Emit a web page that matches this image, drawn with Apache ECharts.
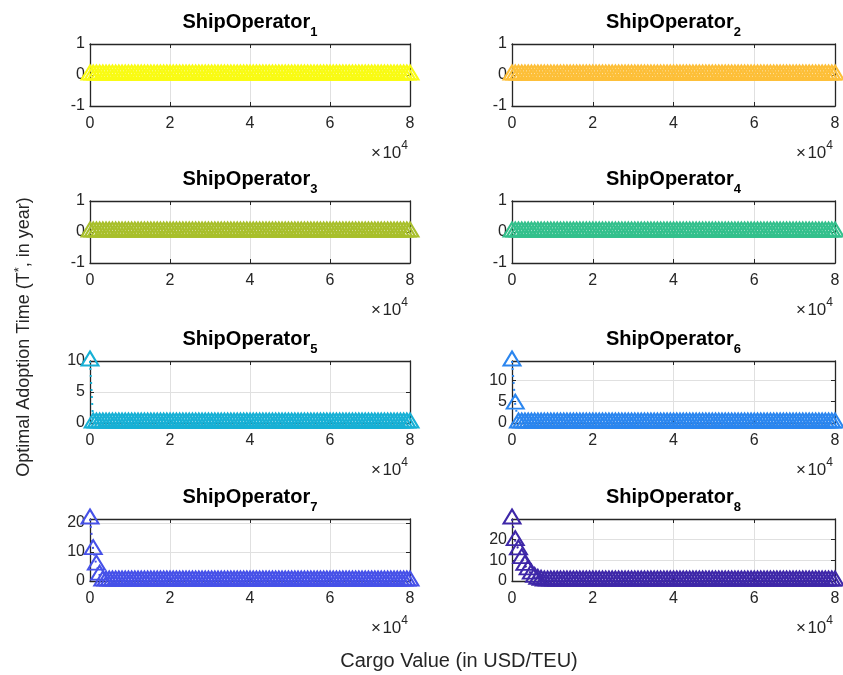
<!DOCTYPE html>
<html>
<head>
<meta charset="utf-8">
<script src="https://cdn.jsdelivr.net/npm/echarts@6/dist/echarts.min.js"></script>
<style>
  html, body { margin: 0; padding: 0; background: #ffffff; }
  #chart { width: 843px; height: 675px; }
</style>
</head>
<body>
<div id="chart"></div>
<script>
// Cargo value samples (USD/TEU)
const cargoValue = [
  0, 800, 1600, 2400, 3200, 4000, 4800, 5600, 6400, 7200,
  8000, 8800, 9600, 10400, 11200, 12000, 12800, 13600, 14400, 15200,
  16000, 16800, 17600, 18400, 19200, 20000, 20800, 21600, 22400, 23200,
  24000, 24800, 25600, 26400, 27200, 28000, 28800, 29600, 30400, 31200,
  32000, 32800, 33600, 34400, 35200, 36000, 36800, 37600, 38400, 39200,
  40000, 40800, 41600, 42400, 43200, 44000, 44800, 45600, 46400, 47200,
  48000, 48800, 49600, 50400, 51200, 52000, 52800, 53600, 54400, 55200,
  56000, 56800, 57600, 58400, 59200, 60000, 60800, 61600, 62400, 63200,
  64000, 64800, 65600, 66400, 67200, 68000, 68800, 69600, 70400, 71200,
  72000, 72800, 73600, 74400, 75200, 76000, 76800, 77600, 78400, 79200,
  80000
];

// Optimal adoption time T* (years) for each ship operator
const adoption1 = [
  0,0,0,0,0,0,0,0,0,0, 0,0,0,0,0,0,0,0,0,0, 0,0,0,0,0,0,0,0,0,0, 0,0,0,0,0,0,0,0,0,0,
  0,0,0,0,0,0,0,0,0,0, 0,0,0,0,0,0,0,0,0,0, 0,0,0,0,0,0,0,0,0,0, 0,0,0,0,0,0,0,0,0,0,
  0,0,0,0,0,0,0,0,0,0, 0,0,0,0,0,0,0,0,0,0, 0
];
const adoption2 = [
  0,0,0,0,0,0,0,0,0,0, 0,0,0,0,0,0,0,0,0,0, 0,0,0,0,0,0,0,0,0,0, 0,0,0,0,0,0,0,0,0,0,
  0,0,0,0,0,0,0,0,0,0, 0,0,0,0,0,0,0,0,0,0, 0,0,0,0,0,0,0,0,0,0, 0,0,0,0,0,0,0,0,0,0,
  0,0,0,0,0,0,0,0,0,0, 0,0,0,0,0,0,0,0,0,0, 0
];
const adoption3 = [
  0,0,0,0,0,0,0,0,0,0, 0,0,0,0,0,0,0,0,0,0, 0,0,0,0,0,0,0,0,0,0, 0,0,0,0,0,0,0,0,0,0,
  0,0,0,0,0,0,0,0,0,0, 0,0,0,0,0,0,0,0,0,0, 0,0,0,0,0,0,0,0,0,0, 0,0,0,0,0,0,0,0,0,0,
  0,0,0,0,0,0,0,0,0,0, 0,0,0,0,0,0,0,0,0,0, 0
];
const adoption4 = [
  0,0,0,0,0,0,0,0,0,0, 0,0,0,0,0,0,0,0,0,0, 0,0,0,0,0,0,0,0,0,0, 0,0,0,0,0,0,0,0,0,0,
  0,0,0,0,0,0,0,0,0,0, 0,0,0,0,0,0,0,0,0,0, 0,0,0,0,0,0,0,0,0,0, 0,0,0,0,0,0,0,0,0,0,
  0,0,0,0,0,0,0,0,0,0, 0,0,0,0,0,0,0,0,0,0, 0
];
const adoption5 = [
  10,0,0,0,0,0,0,0,0,0, 0,0,0,0,0,0,0,0,0,0, 0,0,0,0,0,0,0,0,0,0, 0,0,0,0,0,0,0,0,0,0,
  0,0,0,0,0,0,0,0,0,0, 0,0,0,0,0,0,0,0,0,0, 0,0,0,0,0,0,0,0,0,0, 0,0,0,0,0,0,0,0,0,0,
  0,0,0,0,0,0,0,0,0,0, 0,0,0,0,0,0,0,0,0,0, 0
];
const adoption6 = [
  14.5,4.4,0,0,0,0,0,0,0,0, 0,0,0,0,0,0,0,0,0,0, 0,0,0,0,0,0,0,0,0,0, 0,0,0,0,0,0,0,0,0,0,
  0,0,0,0,0,0,0,0,0,0, 0,0,0,0,0,0,0,0,0,0, 0,0,0,0,0,0,0,0,0,0, 0,0,0,0,0,0,0,0,0,0,
  0,0,0,0,0,0,0,0,0,0, 0,0,0,0,0,0,0,0,0,0, 0
];
const adoption7 = [
  21.4,10.8,5.5,2.0,0,0,0,0,0,0, 0,0,0,0,0,0,0,0,0,0, 0,0,0,0,0,0,0,0,0,0, 0,0,0,0,0,0,0,0,0,0,
  0,0,0,0,0,0,0,0,0,0, 0,0,0,0,0,0,0,0,0,0, 0,0,0,0,0,0,0,0,0,0, 0,0,0,0,0,0,0,0,0,0,
  0,0,0,0,0,0,0,0,0,0, 0,0,0,0,0,0,0,0,0,0, 0
];
const adoption8 = [
  29.7,19.3,14.9,10.7,7.5,5.3,3.3,1.7,0.8,0.3, 0,0,0,0,0,0,0,0,0,0, 0,0,0,0,0,0,0,0,0,0, 0,0,0,0,0,0,0,0,0,0,
  0,0,0,0,0,0,0,0,0,0, 0,0,0,0,0,0,0,0,0,0, 0,0,0,0,0,0,0,0,0,0, 0,0,0,0,0,0,0,0,0,0,
  0,0,0,0,0,0,0,0,0,0, 0,0,0,0,0,0,0,0,0,0, 0
];

const operatorIds = ['1', '2', '3', '4', '5', '6', '7', '8'];
const xTicks = [0, 20000, 40000, 60000, 80000];
const yTickStep = [1, 1, 1, 1, 5, 5, 10, 10];

const adoptionSets = [adoption1, adoption2, adoption3, adoption4,
                      adoption5, adoption6, adoption7, adoption8];

// styling
const lineColors = ['#f9fb13', '#fdbf38', '#a8bf2b', '#33c08c',
                    '#17b0d5', '#2b86ef', '#4651e8', '#3e27a8'];
const FONT = '"Liberation Sans", Arial, Helvetica, sans-serif';
const INK = '#262626';
const GRIDC = '#e0e0e0';
const colLeft = [90, 512];
const colWidth = [320, 323];
const rowTop = [44, 201, 361, 519];
const rowHeight = 62;

const grids = [], xAxes = [], yAxes = [], series = [], graphics = [];

adoptionSets.forEach((vals, i) => {
  const col = i % 2, row = Math.floor(i / 2);
  const left = colLeft[col], top = rowTop[row], width = colWidth[col];
  grids.push({ left: left, top: top, width: width, height: rowHeight, containLabel: false });

  const dataMax = Math.max(...vals);
  const flat = dataMax === 0;
  const yMin = flat ? -1 : 0;
  const yMax = flat ? 1 : dataMax;
  const step = yTickStep[i];
  const maxOnTick = Math.abs(yMax / step - Math.round(yMax / step)) < 1e-9;

  const lineStyle = { color: INK, width: 1.3 };
  xAxes.push({
    gridIndex: i, type: 'value', position: 'bottom',
    min: xTicks[0], max: xTicks[xTicks.length - 1], interval: xTicks[1] - xTicks[0],
    axisLine: { show: true, onZero: false, lineStyle: lineStyle },
    axisTick: { show: true, inside: true, length: 4, lineStyle: { color: INK, width: 1 } },
    axisLabel: { show: true, margin: 10, color: INK, fontSize: 16, fontFamily: FONT,
                 formatter: v => String(v / 10000) },
    splitLine: { show: true, lineStyle: { color: GRIDC, width: 1 } }
  });
  xAxes.push({
    gridIndex: i, type: 'value', position: 'top',
    min: xTicks[0], max: xTicks[xTicks.length - 1], interval: xTicks[1] - xTicks[0],
    axisLine: { show: true, onZero: false, lineStyle: lineStyle },
    axisTick: { show: true, inside: true, length: 4, lineStyle: { color: INK, width: 1 } },
    axisLabel: { show: false }, splitLine: { show: false }
  });
  yAxes.push({
    gridIndex: i, type: 'value', position: 'left',
    min: yMin, max: yMax, interval: step,
    axisLine: { show: true, onZero: false, lineStyle: lineStyle },
    axisTick: { show: true, inside: true, length: 4, lineStyle: { color: INK, width: 1 } },
    axisLabel: { show: true, margin: 5, color: INK, fontSize: 16, fontFamily: FONT,
                 showMaxLabel: maxOnTick, showMinLabel: true },
    splitLine: { show: true, lineStyle: { color: GRIDC, width: 1 } }
  });
  yAxes.push({
    gridIndex: i, type: 'value', position: 'right',
    min: yMin, max: yMax, interval: step,
    axisLine: { show: true, onZero: false, lineStyle: lineStyle },
    axisTick: { show: true, inside: true, length: 4, lineStyle: { color: INK, width: 1 } },
    axisLabel: { show: false }, splitLine: { show: false }
  });

  series.push({
    type: 'line', xAxisIndex: 2 * i, yAxisIndex: 2 * i,
    data: cargoValue.map((x, k) => [x, vals[k]]),
    symbol: 'triangle', symbolSize: [17, 14], symbolOffset: [0, -2.5],
    showSymbol: true, showAllSymbol: true, clip: false, silent: true,
    itemStyle: { color: 'rgba(0,0,0,0)', borderColor: lineColors[i], borderWidth: 2 },
    lineStyle: { color: lineColors[i], width: 2, type: [2, 5] },
    emphasis: { disabled: true }, z: 3
  });

  // panel title with subscript index
  graphics.push({
    type: 'text', x: left + width / 2, y: top - 32, silent: true,
    style: {
      text: '{m|ShipOperator}{s|' + operatorIds[i] + '}',
      align: 'center', verticalAlign: 'top',
      rich: {
        m: { fontSize: 20, fontWeight: 'bold', fontFamily: FONT, fill: '#000', lineHeight: 21 },
        s: { fontSize: 13, fontWeight: 'bold', fontFamily: FONT, fill: '#000', lineHeight: 13,
             padding: [19, 0, 0, 0] }
      }
    }
  });
  // x-axis exponent
  graphics.push({
    type: 'text', x: left + width - 2, y: top + rowHeight + 34, silent: true,
    style: {
      text: '{a|×\u200a10}{b|4}',
      align: 'right', verticalAlign: 'top',
      rich: {
        a: { fontSize: 17, fontFamily: FONT, fill: INK, lineHeight: 17, padding: [10, 0, 0, 0] },
        b: { fontSize: 12, fontFamily: FONT, fill: INK, lineHeight: 12, verticalAlign: 'top' }
      }
    }
  });
});

// shared axis titles
graphics.push({
  type: 'text', x: 459, y: 661, silent: true,
  style: { text: 'Cargo Value (in USD/TEU)', font: '20px ' + FONT, fill: INK,
           align: 'center', verticalAlign: 'middle' }
});
graphics.push({
  type: 'text', x: 22, y: 337, rotation: Math.PI / 2, silent: true,
  style: {
    text: '{a|Optimal Adoption Time (T}{b|*}{a|, in year)}',
    align: 'center', verticalAlign: 'middle',
    rich: {
      a: { fontSize: 18, fontFamily: FONT, fill: INK, lineHeight: 18, padding: [5, 0, 0, 0] },
      b: { fontSize: 13, fontFamily: FONT, fill: INK, lineHeight: 13, verticalAlign: 'top' }
    }
  }
});

const chart = echarts.init(document.getElementById('chart'), null, { renderer: 'canvas' });
chart.setOption({
  backgroundColor: '#ffffff',
  animation: false,
  grid: grids,
  xAxis: xAxes,
  yAxis: yAxes,
  series: series,
  graphic: graphics
});
</script>
</body>
</html>
